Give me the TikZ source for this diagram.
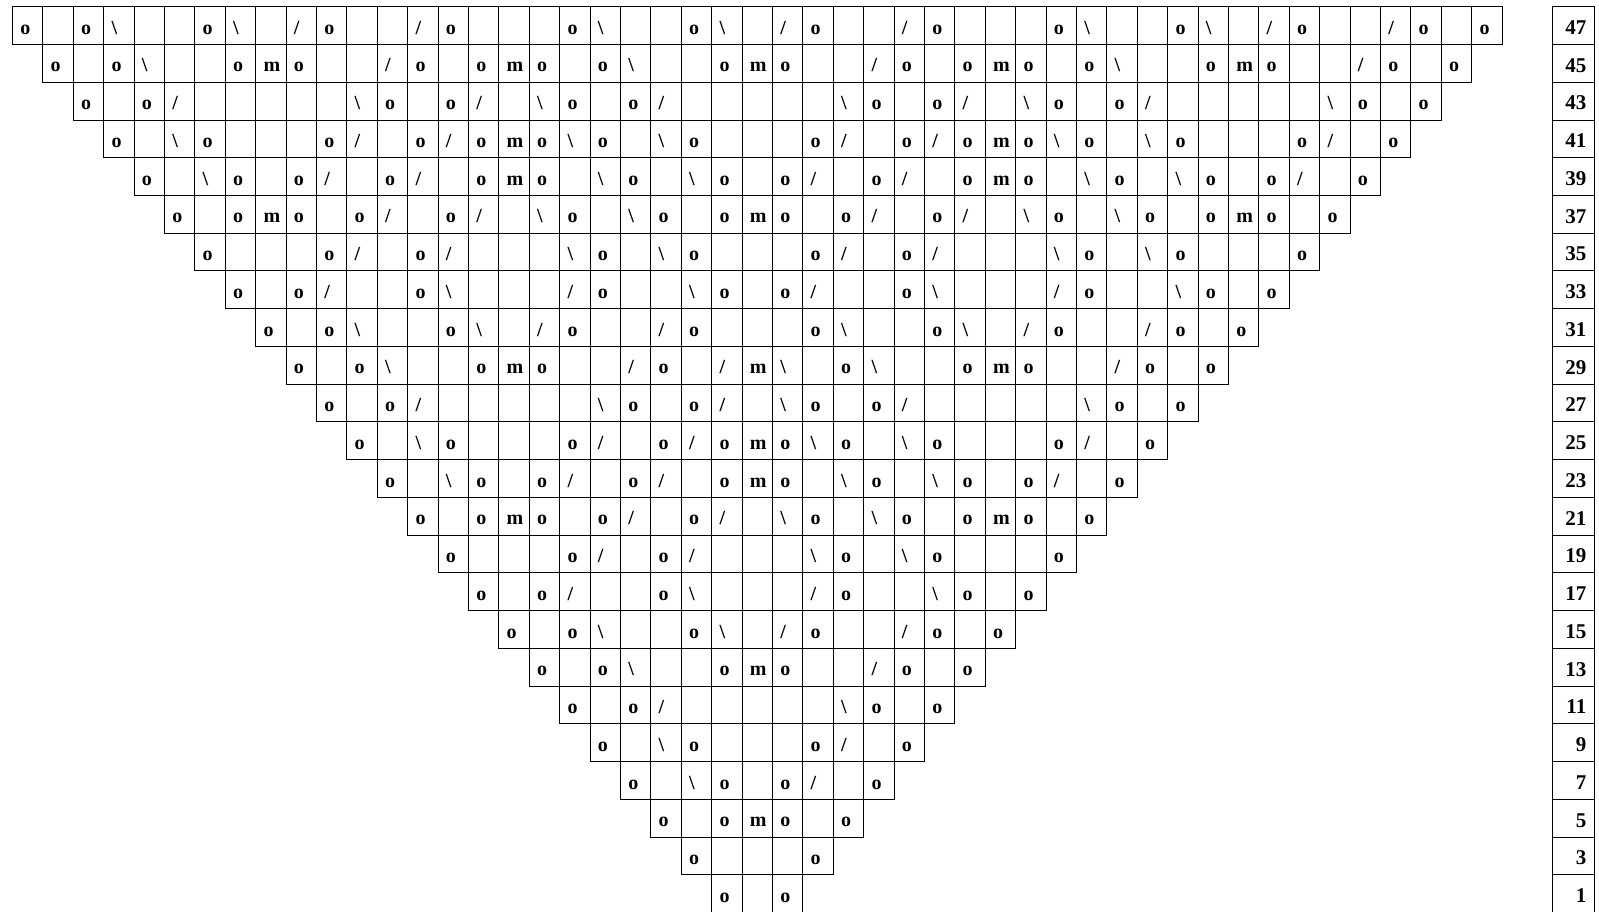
\documentclass[tikz,border=0pt]{standalone}
\usepackage{fontspec}
\setmainfont{Liberation Serif}
\newcommand\knitglyph[1]{\if b#1\textbackslash\else\if s#1/\else #1\fi\fi}
\newcommand\knitrow[2]{\foreach \kc/\ks in {#2}{\expandafter\xdef\csname ks-#1-\kc\endcsname{\ks}}}
\knitrow{47}{0/o,2/o,3/b,6/o,7/b,9/s,10/o,13/s,14/o,18/o,19/b,22/o,23/b,25/s,26/o,29/s,30/o,34/o,35/b,38/o,39/b,41/s,42/o,45/s,46/o,48/o}
\knitrow{45}{1/o,3/o,4/b,7/o,8/m,9/o,12/s,13/o,15/o,16/m,17/o,19/o,20/b,23/o,24/m,25/o,28/s,29/o,31/o,32/m,33/o,35/o,36/b,39/o,40/m,41/o,44/s,45/o,47/o}
\knitrow{43}{2/o,4/o,5/s,11/b,12/o,14/o,15/s,17/b,18/o,20/o,21/s,27/b,28/o,30/o,31/s,33/b,34/o,36/o,37/s,43/b,44/o,46/o}
\knitrow{41}{3/o,5/b,6/o,10/o,11/s,13/o,14/s,15/o,16/m,17/o,18/b,19/o,21/b,22/o,26/o,27/s,29/o,30/s,31/o,32/m,33/o,34/b,35/o,37/b,38/o,42/o,43/s,45/o}
\knitrow{39}{4/o,6/b,7/o,9/o,10/s,12/o,13/s,15/o,16/m,17/o,19/b,20/o,22/b,23/o,25/o,26/s,28/o,29/s,31/o,32/m,33/o,35/b,36/o,38/b,39/o,41/o,42/s,44/o}
\knitrow{37}{5/o,7/o,8/m,9/o,11/o,12/s,14/o,15/s,17/b,18/o,20/b,21/o,23/o,24/m,25/o,27/o,28/s,30/o,31/s,33/b,34/o,36/b,37/o,39/o,40/m,41/o,43/o}
\knitrow{35}{6/o,10/o,11/s,13/o,14/s,18/b,19/o,21/b,22/o,26/o,27/s,29/o,30/s,34/b,35/o,37/b,38/o,42/o}
\knitrow{33}{7/o,9/o,10/s,13/o,14/b,18/s,19/o,22/b,23/o,25/o,26/s,29/o,30/b,34/s,35/o,38/b,39/o,41/o}
\knitrow{31}{8/o,10/o,11/b,14/o,15/b,17/s,18/o,21/s,22/o,26/o,27/b,30/o,31/b,33/s,34/o,37/s,38/o,40/o}
\knitrow{29}{9/o,11/o,12/b,15/o,16/m,17/o,20/s,21/o,23/s,24/m,25/b,27/o,28/b,31/o,32/m,33/o,36/s,37/o,39/o}
\knitrow{27}{10/o,12/o,13/s,19/b,20/o,22/o,23/s,25/b,26/o,28/o,29/s,35/b,36/o,38/o}
\knitrow{25}{11/o,13/b,14/o,18/o,19/s,21/o,22/s,23/o,24/m,25/o,26/b,27/o,29/b,30/o,34/o,35/s,37/o}
\knitrow{23}{12/o,14/b,15/o,17/o,18/s,20/o,21/s,23/o,24/m,25/o,27/b,28/o,30/b,31/o,33/o,34/s,36/o}
\knitrow{21}{13/o,15/o,16/m,17/o,19/o,20/s,22/o,23/s,25/b,26/o,28/b,29/o,31/o,32/m,33/o,35/o}
\knitrow{19}{14/o,18/o,19/s,21/o,22/s,26/b,27/o,29/b,30/o,34/o}
\knitrow{17}{15/o,17/o,18/s,21/o,22/b,26/s,27/o,30/b,31/o,33/o}
\knitrow{15}{16/o,18/o,19/b,22/o,23/b,25/s,26/o,29/s,30/o,32/o}
\knitrow{13}{17/o,19/o,20/b,23/o,24/m,25/o,28/s,29/o,31/o}
\knitrow{11}{18/o,20/o,21/s,27/b,28/o,30/o}
\knitrow{9}{19/o,21/b,22/o,26/o,27/s,29/o}
\knitrow{7}{20/o,22/b,23/o,25/o,26/s,28/o}
\knitrow{5}{21/o,23/o,24/m,25/o,27/o}
\knitrow{3}{22/o,26/o}
\knitrow{1}{23/o,25/o}
\tikzset{
  knitcell/.style={draw=black, line width=0.8pt, anchor=north west, outer sep=0pt,
    inner xsep=8pt, inner ysep=0pt, text width=14.4pt, align=left,
    text height=27.5pt, text depth=10.24pt,
    font=\bfseries\fontsize{20}{24}\selectfont},
  rowlab/.style={draw=black, line width=0.8pt, anchor=north west, outer sep=0pt,
    inner xsep=8pt, inner ysep=0pt, text width=25.6pt, align=right,
    text height=27.8pt, text depth=9.94pt,
    font=\bfseries\fontsize{21}{24}\selectfont}
}
\begin{document}
\begin{tikzpicture}[x=1pt,y=-1pt]
\useasboundingbox (0,0) rectangle (1599,912);
\foreach \r [count=\ri from 0] in {47,45,...,1} {
  \pgfmathtruncatemacro\cfirst{\ri}
  \pgfmathtruncatemacro\clast{48-\ri}
  \foreach \kc in {\cfirst,...,\clast} {
    \node[knitcell] (r\r-c\kc) at ({12.3+30.4*\kc},{6.7+37.74*\ri})
      {\knitglyph{\csname ks-\r-\kc\endcsname}};
  }
  \node[rowlab] (lab\r) at (1552.7,{6.7+37.74*\ri}) {\r};
}
\end{tikzpicture}
\end{document}
